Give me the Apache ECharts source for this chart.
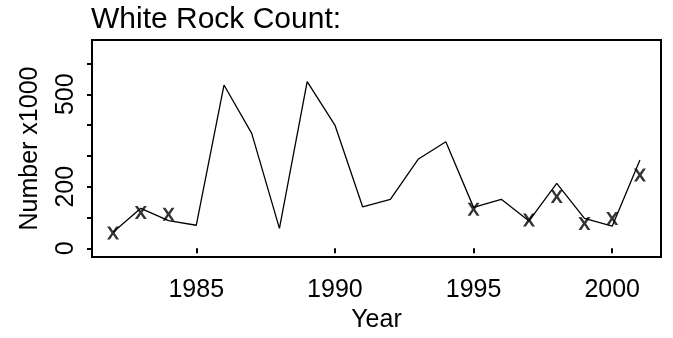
<!DOCTYPE html>
<html>
<head>
<meta charset="utf-8">
<script src="https://cdn.jsdelivr.net/npm/echarts@6/dist/echarts.min.js"></script>
<style>
html,body{margin:0;padding:0;background:#fff;}
#c{width:673px;height:338px;}
</style>
</head>
<body>
<div id="c"></div>
<script>
var years = [1982,1983,1984,1985,1986,1987,1988,1989,1990,1991,1992,1993,1994,1995,1996,1997,1998,1999,2000,2001];
var counts = [52,130,90,75,530,373,65,541,400,135,159,289,346,133,159,89,211,97,72,287];
var markerYears = [1982,1983,1984,1995,1997,1998,1999,2000,2001];
var markerValues = [50,116,111,127,92,168,81,97,238];
var xTicks = [1985,1990,1995,2000];
var yTicks = [0,100,200,300,400,500,600];
var yLabels = [0,200,500];

var FONT = 'Liberation Sans, Arial, Helvetica, sans-serif';
var chart = echarts.init(document.getElementById('c'), null, {renderer:'canvas'});
var xPath = 'path://M0,0 L2.9,0 L6,4.6 L9.1,0 L12,0 L7.6,6.5 L12,13 L9.1,13 L6,8.4 L2.9,13 L0,13 L4.4,6.5 Z';

chart.setOption({
  animation:false,
  backgroundColor:'#fff',
  title:{text:'White Rock Count:', left:91, top:5, padding:0,
    textStyle:{fontFamily:FONT, fontSize:30, fontWeight:'normal', color:'#000'}},
  grid:{left:92, right:12, top:40, bottom:81, show:true, borderColor:'#000', borderWidth:2, backgroundColor:'transparent'},
  xAxis:{type:'value', min:1981.24, max:2001.76,
    name:'Year', nameLocation:'middle', nameGap:46,
    nameTextStyle:{fontFamily:FONT, fontSize:25, color:'#000'},
    axisLine:{show:false},
    axisTick:{show:true, inside:false, length:5, lineStyle:{color:'#000', width:2}, customValues:xTicks},
    axisLabel:{show:true, margin:21, fontFamily:FONT, fontSize:25, color:'#000', customValues:xTicks,
      formatter:function(v){return String(v);}},
    splitLine:{show:false}},
  yAxis:{type:'value', min:-28, max:676,
    name:'Number x1000', nameLocation:'middle', nameGap:49, nameRotate:90,
    nameTextStyle:{fontFamily:FONT, fontSize:25, color:'#000'},
    axisLine:{show:false},
    axisTick:{show:true, inside:false, length:5, lineStyle:{color:'#000', width:2}, customValues:yTicks},
    axisLabel:{show:true, rotate:90, margin:13, fontFamily:FONT, fontSize:25, color:'#000', customValues:yLabels,
      formatter:function(v){return String(v);}},
    splitLine:{show:false}},
  series:[
    {type:'line', data:years.map(function(y,i){return [y,counts[i]];}), symbol:'none',
     lineStyle:{color:'#000', width:1.3}, z:3},
    {type:'scatter', data:markerYears.map(function(y,i){return [y,markerValues[i]];}),
     symbol:xPath, symbolSize:[12,13], itemStyle:{color:'#000'}, z:4}
  ]
});
</script>
</body>
</html>
